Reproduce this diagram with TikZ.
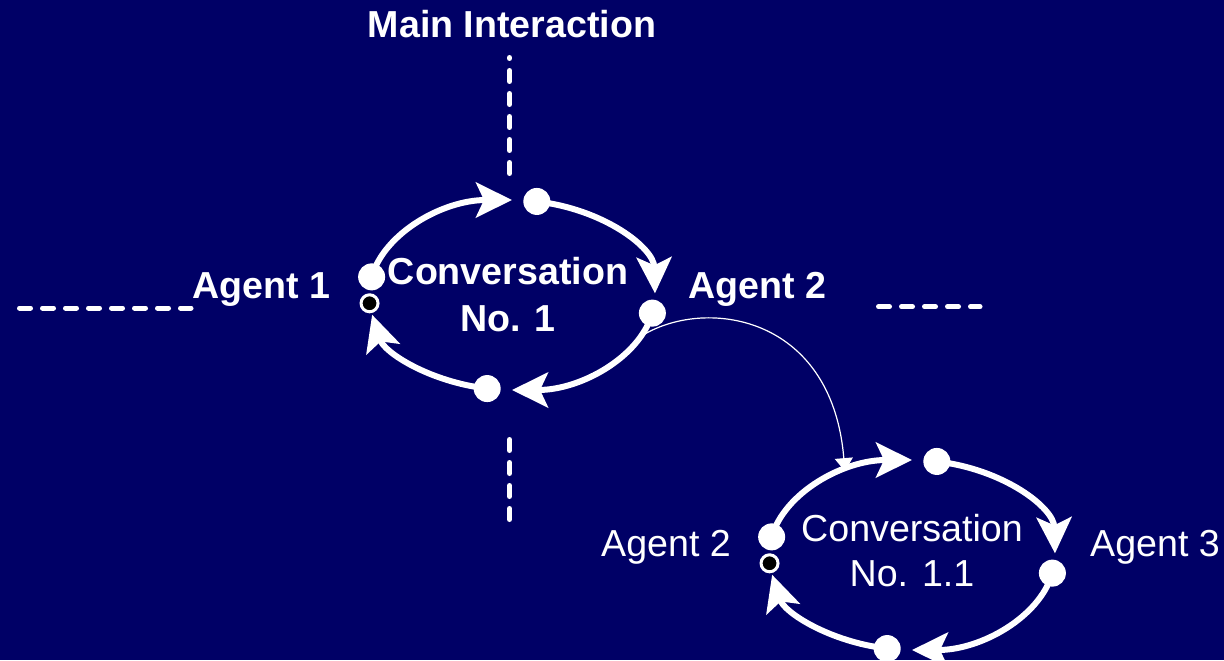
\documentclass[tikz,border=0pt]{standalone}
\usepackage{fontspec}
\setmainfont{Liberation Sans}
\usetikzlibrary{arrows.meta,calc}
\definecolor{navy}{HTML}{000066}

\begin{document}
\begin{tikzpicture}[x=0.5pt,y=0.5pt,
  dot/.style={circle,fill=white,inner sep=0pt,minimum size=13.5pt},
  hub/.style={circle,fill=black,draw=white,line width=1.5pt,inner sep=0pt,minimum size=8.5pt},
  flow/.style={white,line width=3pt,-{Stealth[length=18pt,width=17.5pt,inset=4pt]}},
  guide/.style={white,line width=2.5pt,line cap=round,dash pattern=on 5.5pt off 6pt},
  link/.style={white,line width=0.6pt,-{Triangle[length=6.5pt,width=9pt]}},
  lbl/.style={text=white,font=\fontsize{18.8}{23.5}\selectfont\bfseries},
  lbl2/.style={text=white,font=\fontsize{18.8}{22.5}\selectfont}]
\path[use as bounding box,fill=navy] (0,0) rectangle (1224,660);

% the two conversation rings
\foreach \c/\cx/\cy in {c1/512/365,c2/912/105}{
  \coordinate (\c) at (\cx,\cy);
  \foreach \n/\a in {n/80,e/-11,s/260,w/169}
    \node[dot] (\c\n) at ($(\c)+(\a:143 and 95)$) {};
  \foreach \n/\a/\b in {w/169/90,n/80/1,e/-11/-90,s/260/192}
    \draw[flow] (\c\n.center) arc[start angle=\a,end angle=\b,x radius=143,y radius=95];
  \node[hub] (\c-h) at ($(\c)+(185:143 and 95)$) {};
}

\node[lbl] (main) at (512,636) {Main Interaction};
\node[lbl,anchor=base] (ag1) at (261,362) {Agent 1};
\node[lbl,anchor=base] (ag2) at (757,362) {Agent 2};
\node[lbl,align=center] (conv1) at (508,365) {Conversation\\No. 1};
\node[lbl2,anchor=base] (ag2b) at (666,104) {Agent 2};
\node[lbl2,anchor=base] (ag3) at (1155,104) {Agent 3};
\node[lbl2,align=center] (conv11) at (912,109) {Conversation\\No. 1.1};

% dashed guides
\draw[guide] (509.5,486.5) -- (509.5,602.5);
\draw[guide] (19.5,352) -- (191,352);
\draw[guide] (878.5,353.3) -- (980,353.3);
\draw[guide] (509.5,220.5) -- (509.5,139);

% sub conversation
\coordinate (c1out) at ($(c1)+(-26:143 and 95)$);
\coordinate (c2in) at ($(c2)+(118:143 and 95)$);
\draw[link] (c1out) .. controls +(62,40) and +(-13,158) .. (c2in);
\end{tikzpicture}
\end{document}
